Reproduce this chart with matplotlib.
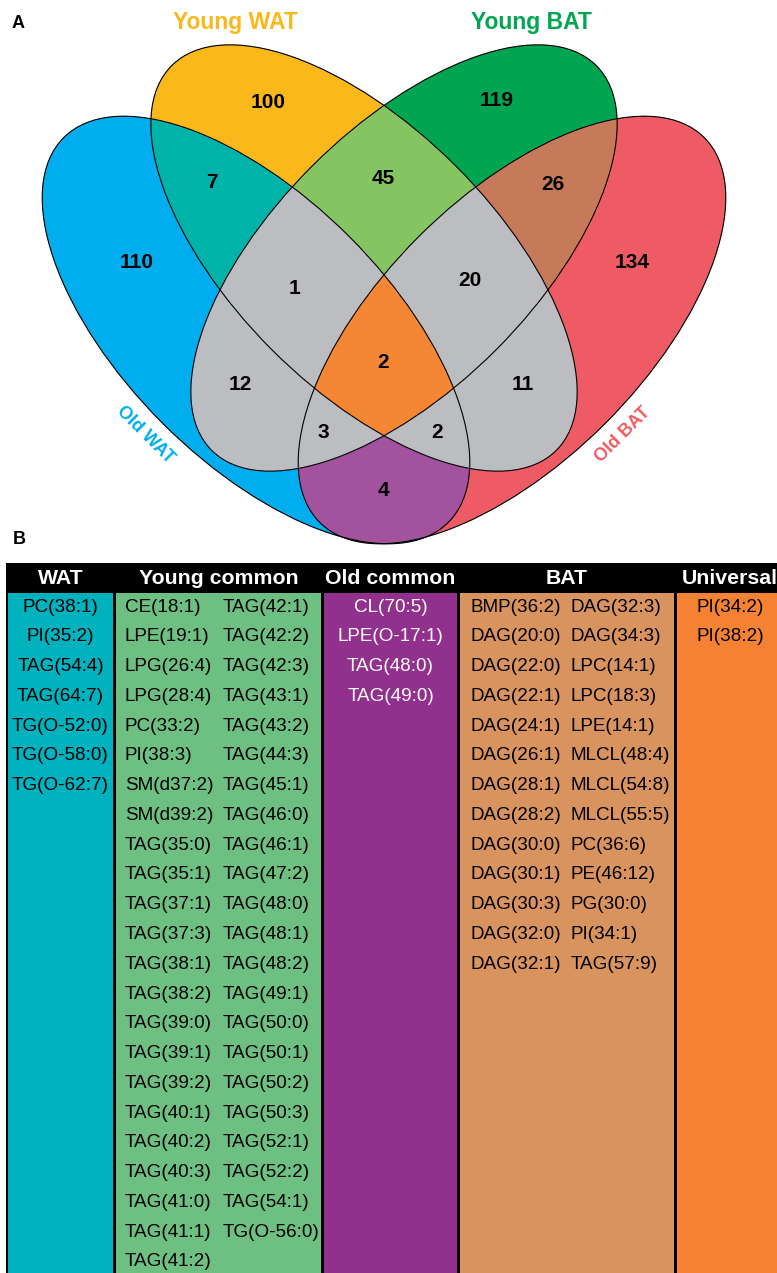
import numpy as np
import matplotlib.pyplot as plt
from matplotlib.patches import Ellipse, Rectangle

plt.rcParams['font.family'] = ['Liberation Sans', 'DejaVu Sans']

# four sets of the Venn diagram
setNames = ['Old WAT', 'Young WAT', 'Young BAT', 'Old BAT']
setColors = ['#00AEEF', '#FBB81B', '#00A651', '#EF5B64']

# region membership as (Old WAT, Young WAT, Young BAT, Old BAT)
regionSets = [
    (1, 0, 0, 0), (0, 1, 0, 0), (0, 0, 1, 0), (0, 0, 0, 1),
    (1, 1, 0, 0), (0, 1, 1, 0), (0, 0, 1, 1), (1, 0, 0, 1),
    (1, 1, 1, 0), (0, 1, 1, 1), (1, 0, 1, 0), (0, 1, 0, 1),
    (1, 0, 1, 1), (1, 1, 0, 1), (1, 1, 1, 1),
]
regionCounts = [110, 100, 119, 134, 7, 45, 26, 4, 1, 20, 12, 11, 3, 2, 2]
regionColors = ['#00AEEF', '#FBB81B', '#00A651', '#EF5B64',
                '#00B4A9', '#84C561', '#C77A5A', '#A4539E',
                '#BCBEC0', '#BCBEC0', '#BCBEC0', '#BCBEC0',
                '#BCBEC0', '#BCBEC0', '#F58634']

# table columns of panel B
watLipids = ['PC(38:1)', 'PI(35:2)', 'TAG(54:4)', 'TAG(64:7)',
             'TG(O-52:0)', 'TG(O-58:0)', 'TG(O-62:7)']
youngCommon = ['CE(18:1)', 'LPE(19:1)', 'LPG(26:4)', 'LPG(28:4)', 'PC(33:2)',
               'PI(38:3)', 'SM(d37:2)', 'SM(d39:2)', 'TAG(35:0)', 'TAG(35:1)',
               'TAG(37:1)', 'TAG(37:3)', 'TAG(38:1)', 'TAG(38:2)', 'TAG(39:0)',
               'TAG(39:1)', 'TAG(39:2)', 'TAG(40:1)', 'TAG(40:2)', 'TAG(40:3)',
               'TAG(41:0)', 'TAG(41:1)', 'TAG(41:2)',
               'TAG(42:1)', 'TAG(42:2)', 'TAG(42:3)', 'TAG(43:1)', 'TAG(43:2)',
               'TAG(44:3)', 'TAG(45:1)', 'TAG(46:0)', 'TAG(46:1)', 'TAG(47:2)',
               'TAG(48:0)', 'TAG(48:1)', 'TAG(48:2)', 'TAG(49:1)', 'TAG(50:0)',
               'TAG(50:1)', 'TAG(50:2)', 'TAG(50:3)', 'TAG(52:1)', 'TAG(52:2)',
               'TAG(54:1)', 'TG(O-56:0)']
oldCommon = ['CL(70:5)', 'LPE(O-17:1)', 'TAG(48:0)', 'TAG(49:0)']
batLipids = ['BMP(36:2)', 'DAG(20:0)', 'DAG(22:0)', 'DAG(22:1)', 'DAG(24:1)',
             'DAG(26:1)', 'DAG(28:1)', 'DAG(28:2)', 'DAG(30:0)', 'DAG(30:1)',
             'DAG(30:3)', 'DAG(32:0)', 'DAG(32:1)',
             'DAG(32:3)', 'DAG(34:3)', 'LPC(14:1)', 'LPC(18:3)', 'LPE(14:1)',
             'MLCL(48:4)', 'MLCL(54:8)', 'MLCL(55:5)', 'PC(36:6)', 'PE(46:12)',
             'PG(30:0)', 'PI(34:1)', 'TAG(57:9)']
universalLipids = ['PI(34:2)', 'PI(38:2)']

# ---- layout (pixel units, y downwards) ----
axisX = 384
ellipses = [  # cx, cy, a, b, angle
    (axisX - 128, 330, 272, 132, 45),
    (axisX - 20, 258, 272, 130, 45),
    (axisX + 20, 258, 272, 130, -45),
    (axisX + 128, 330, 272, 132, -45),
]
labelPos = [(137, 262), (268, 102), (497, 100), (632, 262),
            (212, 183), (383, 178), (553, 184), (383, 490),
            (295, 288), (470, 280), (240, 385), (523, 385),
            (323, 433), (437, 432), (383, 363)]

fig = plt.figure(figsize=(7.77, 12.73), dpi=100)
ax = fig.add_axes([0, 0, 1, 1])
ax.set_xlim(0, 777)
ax.set_ylim(1273, 0)
ax.axis('off')


def insideEllipse(X, Y, cx, cy, a, b, ang):
    t = np.deg2rad(ang)
    dx, dy = X - cx, Y - cy
    u = dx * np.cos(t) + dy * np.sin(t)
    v = -dx * np.sin(t) + dy * np.cos(t)
    return (u / a) ** 2 + (v / b) ** 2 <= 1


# rasterise region membership and colour each region
step = 0.5
xs = np.arange(0, 777, step) + step / 2
ys = np.arange(0, 570, step) + step / 2
X, Y = np.meshgrid(xs, ys)
masks = [insideEllipse(X, Y, *e) for e in ellipses]
img = np.zeros(X.shape + (4,))
for members, col in zip(regionSets, regionColors):
    sel = np.ones(X.shape, dtype=bool)
    for m, inside in zip(members, masks):
        sel &= inside if m else ~inside
    img[sel] = plt.matplotlib.colors.to_rgba(col)
ax.imshow(img, extent=(0, 777, 570, 0), origin='upper',
          interpolation='antialiased', zorder=1)

for cx, cy, a, b, ang in ellipses:
    ax.add_patch(Ellipse((cx, cy), 2 * a, 2 * b, angle=ang, fill=False,
                         edgecolor='black', linewidth=0.8, zorder=2))

for (x, y), n in zip(labelPos, regionCounts):
    ax.text(x, y, str(n), ha='center', va='center', fontsize=15,
            fontweight='bold', zorder=3)

ax.text(235, 23, setNames[1], color=setColors[1], ha='center', va='center',
        fontsize=16.5, fontweight='bold')
ax.text(531, 23, setNames[2], color=setColors[2], ha='center', va='center',
        fontsize=16.5, fontweight='bold')
ax.text(145, 435, setNames[0], color=setColors[0], ha='center', va='center',
        fontsize=13, fontweight='bold', rotation=-45, rotation_mode='anchor')
ax.text(623, 435, setNames[3], color=setColors[3], ha='center', va='center',
        fontsize=13, fontweight='bold', rotation=45, rotation_mode='anchor')

ax.text(18, 24, 'A', ha='center', va='center', fontsize=13, fontweight='bold')
ax.text(19, 540, 'B', ha='center', va='center', fontsize=13, fontweight='bold')

# ---- panel B table ----
tableTop, headBottom, tableBottom = 563, 592, 1280
ax.add_patch(Rectangle((6, tableTop), 800, tableBottom - tableTop,
                       facecolor='black', edgecolor='none', zorder=1))
columns = [  # title, x0, x1, fill, text colour, items
    ('WAT', 8, 113, '#00B2BD', 'black', [watLipids]),
    ('Young common', 116, 321, '#6EBF82', 'black',
     [youngCommon[:23], youngCommon[23:]]),
    ('Old common', 324, 457, '#92308E', 'white', [oldCommon]),
    ('BAT', 460, 674, '#D8935F', 'black', [batLipids[:13], batLipids[13:]]),
    ('Universal', 677, 783, '#F58232', 'black', [universalLipids]),
]
rowY0, rowStep = 607, 29.77
for title, x0, x1, fill, tcol, parts in columns:
    ax.add_patch(Rectangle((x0, headBottom + 1), x1 - x0, tableBottom - headBottom,
                           facecolor=fill, edgecolor='none', zorder=2))
    ax.text((x0 + x1) / 2, 578, title, color='white', ha='center', va='center',
            fontsize=15.3, fontweight='bold', zorder=3)
    if len(parts) == 1:
        for i, name in enumerate(parts[0]):
            ax.text((x0 + x1) / 2, rowY0 + i * rowStep, name, color=tcol,
                    ha='center', va='center', fontsize=13.6, zorder=3)
    else:
        colX = [x0 + 9, x0 + 107] if title == 'Young common' else [x0 + 11, x0 + 111]
        for cx, part in zip(colX, parts):
            for i, name in enumerate(part):
                ax.text(cx, rowY0 + i * rowStep, name, color=tcol,
                        ha='left', va='center', fontsize=13.6, zorder=3)

fig.savefig('out.png', dpi=100)
